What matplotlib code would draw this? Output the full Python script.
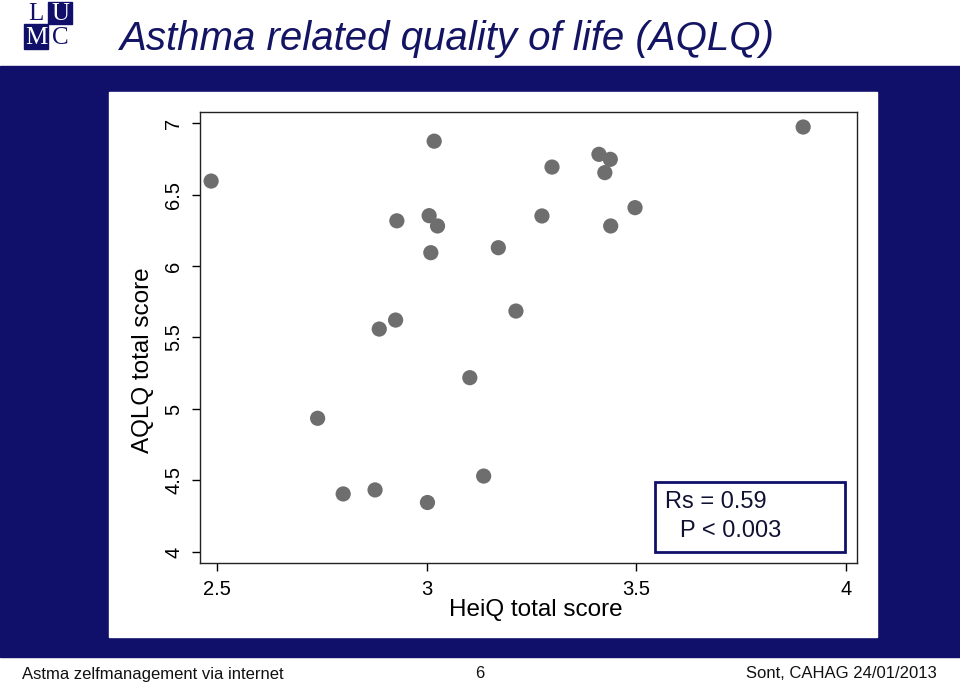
import matplotlib.pyplot as plt
from matplotlib.patches import Rectangle

plt.rcParams['font.family'] = ['Liberation Sans', 'DejaVu Sans']

# HeiQ total score (x) vs AQLQ total score (y)
heiq = [2.486, 3.898, 3.018, 3.411, 3.438, 3.425, 3.299, 3.497, 3.275, 3.006,
        3.026, 2.929, 3.439, 3.171, 3.010, 3.213, 2.926, 2.887, 3.103, 2.740,
        3.136, 2.877, 2.801, 3.002]
aqlq = [6.594, 6.972, 6.873, 6.781, 6.746, 6.653, 6.692, 6.408, 6.350, 6.352,
        6.280, 6.316, 6.280, 6.128, 6.093, 5.685, 5.622, 5.559, 5.219, 4.935,
        4.531, 4.434, 4.406, 4.346]
xticks = [2.5, 3, 3.5, 4]
yticks = [4, 4.5, 5, 5.5, 6, 6.5, 7]

navy = '#10106b'

fig = plt.figure(figsize=(9.6, 6.87), dpi=100)
fig.patch.set_facecolor('white')

# background band and white panel
fig.patches.append(Rectangle((0, 30/687), 1, 591/687, transform=fig.transFigure,
                             color=navy, zorder=0))
fig.patches.append(Rectangle((109/960, 50/687), 768/960, 545/687, transform=fig.transFigure,
                             color='white', zorder=1))

# LUMC logo
fig.patches.append(Rectangle((48/960, 663/687), 24/960, 22/687, transform=fig.transFigure,
                             color=navy, zorder=2))
fig.patches.append(Rectangle((24/960, 638/687), 24/960, 25/687, transform=fig.transFigure,
                             color=navy, zorder=2))
for ch, cx, cy, col in [('L', 36, 14, navy), ('U', 60, 14, 'white'),
                        ('M', 36, 38, 'white'), ('C', 60, 38, navy)]:
    fig.text(cx/960, 1 - cy/687, ch, color=col, fontsize=18, family='Liberation Serif',
             ha='center', va='center', zorder=3)

fig.text(120/960, 1 - 39/687, 'Asthma related quality of life (AQLQ)', fontsize=29,
         style='italic', color='#141464', ha='left', va='center')

# footer
fig.text(22/960, 1 - 674/687, 'Astma zelfmanagement via internet', fontsize=12,
         ha='left', va='center', color='#111111')
fig.text(480/960, 1 - 674/687, '6', fontsize=12, ha='center', va='center', color='#111111')
fig.text(937/960, 1 - 674/687, 'Sont, CAHAG 24/01/2013', fontsize=12,
         ha='right', va='center', color='#111111')

ax = fig.add_axes([200/960, (687-563)/687, 657/960, 451/687], zorder=5)
ax.scatter(heiq, aqlq, s=120, color='#6e6e6e', edgecolors='none', zorder=3)
ax.set_xlim(2.4595, 4.0264)
ax.set_ylim(3.923, 7.077)
ax.set_xticks(xticks)
ax.set_xticklabels(['2.5', '3', '3.5', '4'])
ax.set_yticks(yticks)
ax.set_yticklabels(['4', '4.5', '5', '5.5', '6', '6.5', '7'], rotation=90, va='center')
ax.tick_params(direction='out', length=6, width=1, labelsize=14.5, pad=6)
for sp in ax.spines.values():
    sp.set_linewidth(1)
    sp.set_color('#222222')
ax.set_xlabel('HeiQ total score', fontsize=17.5)
ax.set_ylabel('AQLQ total score', fontsize=17.5)
ax.xaxis.set_label_coords((536-200)/657, -(599-563)/451)
ax.yaxis.set_label_coords(-(200-154)/657, (563-360)/451)

ax.add_patch(Rectangle((0.6925, 0.0244), 0.2892, 0.1552, transform=ax.transAxes,
                       fill=False, edgecolor=navy, linewidth=2, zorder=4))
ax.text(0.7085, 0.1355, 'Rs = 0.59', transform=ax.transAxes, fontsize=17,
        ha='left', va='center', color='#111133')
ax.text(0.7305, 0.0715, 'P < 0.003', transform=ax.transAxes, fontsize=17,
        ha='left', va='center', color='#111133')

fig.savefig('out.png', dpi=100)
